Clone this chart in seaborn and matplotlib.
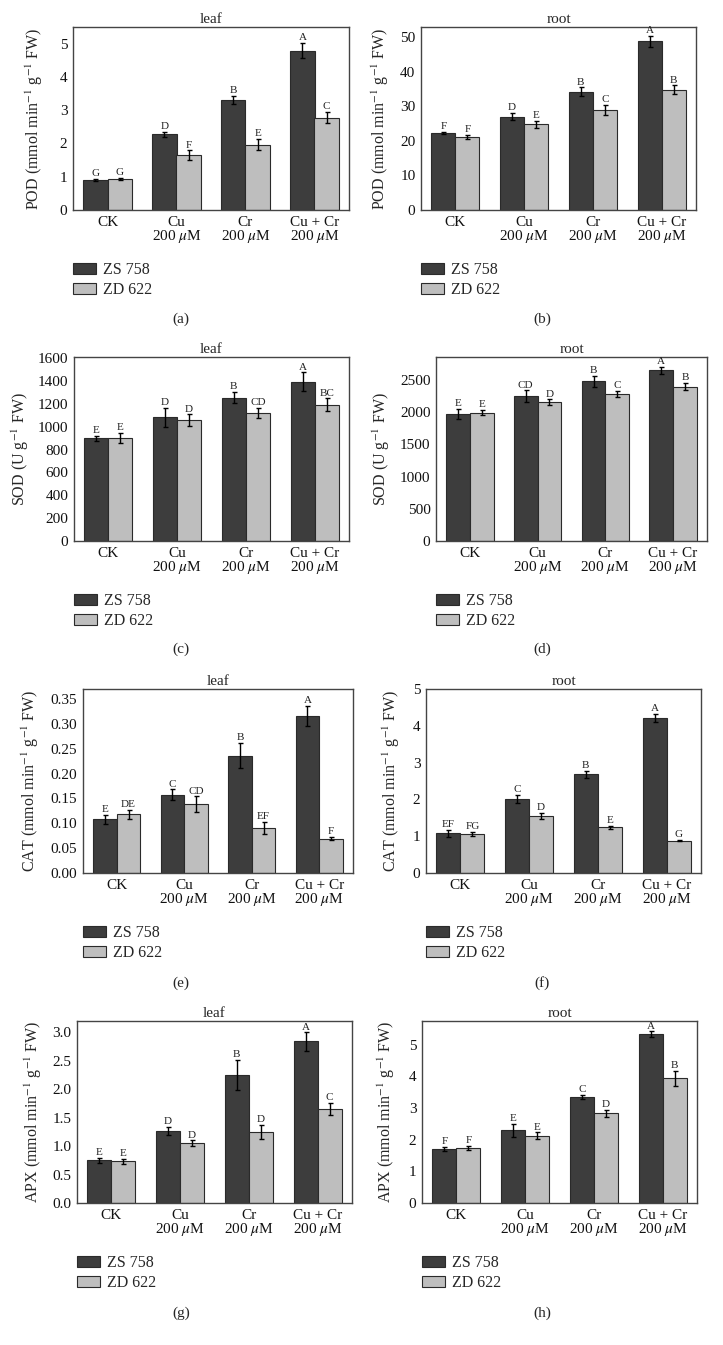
import matplotlib.pyplot as plt
import matplotlib.ticker as mticker
import seaborn as sns
import pandas as pd

# treatments and cultivars
treatments = ["CK", "Cu\n200 $\\mu$M", "Cr\n200 $\\mu$M", "Cu + Cr\n200 $\\mu$M"]
cultivars = ["ZS 758", "ZD 622"]

# POD (a, b)
pod_leaf_zs = [0.90, 2.27, 3.32, 4.79]
pod_leaf_zd = [0.93, 1.65, 1.96, 2.78]
pod_leaf_zs_err = [0.03, 0.07, 0.12, 0.22]
pod_leaf_zd_err = [0.04, 0.14, 0.17, 0.18]
pod_leaf_zs_let = ["G", "D", "B", "A"]
pod_leaf_zd_let = ["G", "F", "E", "C"]

pod_root_zs = [22.4, 27.0, 34.3, 48.9]
pod_root_zd = [21.2, 24.8, 29.0, 34.8]
pod_root_zs_err = [0.3, 1.0, 1.2, 1.6]
pod_root_zd_err = [0.6, 1.0, 1.5, 1.3]
pod_root_zs_let = ["F", "D", "B", "A"]
pod_root_zd_let = ["F", "E", "C", "B"]

# SOD (c, d)
sod_leaf_zs = [898, 1082, 1254, 1395]
sod_leaf_zd = [903, 1058, 1120, 1193]
sod_leaf_zs_err = [25, 83, 48, 80]
sod_leaf_zd_err = [45, 50, 48, 55]
sod_leaf_zs_let = ["E", "D", "B", "A"]
sod_leaf_zd_let = ["E", "D", "CD", "BC"]

sod_root_zs = [1974, 2250, 2484, 2651]
sod_root_zd = [1995, 2161, 2286, 2401]
sod_root_zs_err = [73, 90, 85, 50]
sod_root_zd_err = [40, 40, 50, 55]
sod_root_zs_let = ["E", "CD", "B", "A"]
sod_root_zd_let = ["E", "D", "C", "B"]

# CAT (e, f)
cat_leaf_zs = [0.108, 0.157, 0.236, 0.316]
cat_leaf_zd = [0.118, 0.138, 0.091, 0.069]
cat_leaf_zs_err = [0.009, 0.011, 0.025, 0.020]
cat_leaf_zd_err = [0.009, 0.016, 0.012, 0.003]
cat_leaf_zs_let = ["E", "C", "B", "A"]
cat_leaf_zd_let = ["DE", "CD", "EF", "F"]

cat_root_zs = [1.08, 2.02, 2.68, 4.21]
cat_root_zd = [1.06, 1.56, 1.24, 0.88]
cat_root_zs_err = [0.10, 0.11, 0.10, 0.12]
cat_root_zd_err = [0.06, 0.08, 0.05, 0.02]
cat_root_zs_let = ["EF", "C", "B", "A"]
cat_root_zd_let = ["FG", "D", "E", "G"]

# APX (g, h)
apx_leaf_zs = [0.75, 1.27, 2.25, 2.84]
apx_leaf_zd = [0.73, 1.05, 1.25, 1.65]
apx_leaf_zs_err = [0.04, 0.07, 0.27, 0.16]
apx_leaf_zd_err = [0.05, 0.05, 0.13, 0.11]
apx_leaf_zs_let = ["E", "D", "B", "A"]
apx_leaf_zd_let = ["E", "D", "D", "C"]

apx_root_zs = [1.70, 2.30, 3.35, 5.34]
apx_root_zd = [1.75, 2.13, 2.83, 3.94]
apx_root_zs_err = [0.07, 0.20, 0.06, 0.08]
apx_root_zd_err = [0.06, 0.10, 0.12, 0.24]
apx_root_zs_let = ["F", "E", "C", "A"]
apx_root_zd_let = ["F", "E", "D", "B"]

sns.set_style("white")
plt.rcParams["font.family"] = ["Liberation Serif", "DejaVu Serif"]
plt.rcParams["mathtext.fontset"] = "stix"

W, H = 723, 1345
fig = plt.figure(figsize=(W / 100, H / 100), dpi=100)

dark, light = "#3d3d3d", "#bebebe"

panels = [
    # box px (x0, y0, x1, y1), ylabel right edge px, title, enzyme, ymax, step, fmt, data, caption
    ((73, 27, 349, 210), 45, "leaf", "POD", 5.5, 1, "%d",
     (pod_leaf_zs, pod_leaf_zd, pod_leaf_zs_err, pod_leaf_zd_err, pod_leaf_zs_let, pod_leaf_zd_let), "(a)"),
    ((421, 27, 696, 210), 391, "root", "POD", 53, 10, "%d",
     (pod_root_zs, pod_root_zd, pod_root_zs_err, pod_root_zd_err, pod_root_zs_let, pod_root_zd_let), "(b)"),
    ((74, 357, 349, 541), 31, "leaf", "SOD", 1610, 200, "%d",
     (sod_leaf_zs, sod_leaf_zd, sod_leaf_zs_err, sod_leaf_zd_err, sod_leaf_zs_let, sod_leaf_zd_let), "(c)"),
    ((436, 357, 707, 541), 392, "root", "SOD", 2860, 500, "%d",
     (sod_root_zs, sod_root_zd, sod_root_zs_err, sod_root_zd_err, sod_root_zs_let, sod_root_zd_let), "(d)"),
    ((83, 689, 353, 873), 41, "leaf", "CAT", 0.37, 0.05, "%.2f",
     (cat_leaf_zs, cat_leaf_zd, cat_leaf_zs_err, cat_leaf_zd_err, cat_leaf_zs_let, cat_leaf_zd_let), "(e)"),
    ((426, 689, 701, 873), 402, "root", "CAT", 5.0, 1, "%d",
     (cat_root_zs, cat_root_zd, cat_root_zs_err, cat_root_zd_err, cat_root_zs_let, cat_root_zd_let), "(f)"),
    ((77, 1021, 352, 1203), 44, "leaf", "APX", 3.2, 0.5, "%.1f",
     (apx_leaf_zs, apx_leaf_zd, apx_leaf_zs_err, apx_leaf_zd_err, apx_leaf_zs_let, apx_leaf_zd_let), "(g)"),
    ((422, 1021, 697, 1203), 397, "root", "APX", 5.75, 1, "%d",
     (apx_root_zs, apx_root_zd, apx_root_zs_err, apx_root_zd_err, apx_root_zs_let, apx_root_zd_let), "(h)"),
]

caption_y = {"(a)": 319, "(b)": 319, "(c)": 649, "(d)": 649,
             "(e)": 983, "(f)": 983, "(g)": 1313, "(h)": 1313}

for box, lab_x, title, enzyme, ymax, step, fmt, data, caption in panels:
    x0, y0, x1, y1 = box
    ax = fig.add_axes([x0 / W, 1 - y1 / H, (x1 - x0) / W, (y1 - y0) / H])
    zs, zd, zs_err, zd_err, zs_let, zd_let = data

    df = pd.DataFrame({
        "treatment": treatments * 2,
        "cultivar": [cultivars[0]] * 4 + [cultivars[1]] * 4,
        "value": zs + zd,
    })
    sns.barplot(data=df, x="treatment", y="value", hue="cultivar",
                palette=[dark, light], errorbar=None, width=0.7,
                edgecolor="#2a2a2a", linewidth=0.8, saturation=1, ax=ax)

    # error bars and significance letters
    for cont, errs, lets in zip(ax.containers, [zs_err, zd_err], [zs_let, zd_let]):
        for bar, e, l in zip(cont, errs, lets):
            xc = bar.get_x() + bar.get_width() / 2
            h = bar.get_height()
            ax.errorbar(xc, h, yerr=e, fmt="none", ecolor="black",
                        elinewidth=1.0, capsize=1.8, capthick=1.0)
            ax.annotate(l, (xc, h + e), xytext=(0, 0.6), textcoords="offset points",
                        ha="center", va="bottom", fontsize=8, color="#222222")

    ax.set_ylim(0, ymax)
    ax.set_xlim(-0.5, 3.5)
    ax.yaxis.set_major_locator(mticker.MultipleLocator(step))
    ax.yaxis.set_major_formatter(mticker.FormatStrFormatter(fmt))
    ax.tick_params(axis="both", length=0, labelsize=11, pad=4, colors="#111111")
    for t in ax.get_xticklabels():
        t.set_linespacing(0.92)
    ax.set_xlabel("")
    if enzyme == "SOD":
        ylab = "SOD (U g$^{-1}$ FW)"
    else:
        ylab = enzyme + " (mmol min$^{-1}$ g$^{-1}$ FW)"
    ax.set_ylabel(ylab, fontsize=11.5)
    ax.yaxis.set_label_coords((lab_x - x0) / (x1 - x0), 0.5)
    ax.set_title(title, fontsize=11, pad=3)
    for s in ax.spines.values():
        s.set_color("#444444")
        s.set_linewidth(1.0)

    handles, labels = ax.get_legend_handles_labels()
    ax.legend(handles, labels, loc="upper left",
              bbox_to_anchor=(0, -52 / (y1 - y0)), frameon=False,
              borderaxespad=0, borderpad=0, fontsize=11.5,
              handlelength=1.45, handleheight=0.63, handletextpad=0.4,
              labelspacing=0.25)

    cx = 181 if x0 < 362 else 542
    fig.text(cx / W, 1 - caption_y[caption] / H, caption,
             ha="center", va="center", fontsize=11)

fig.savefig("out.png", dpi=100)
